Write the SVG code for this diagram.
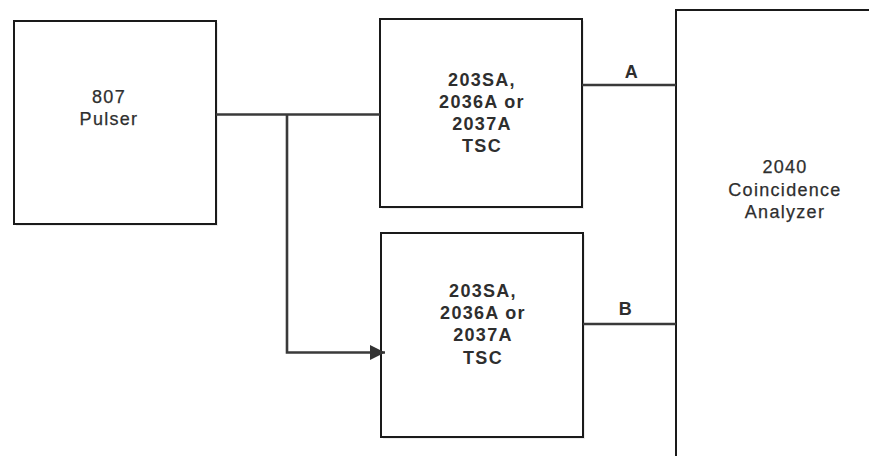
<svg xmlns="http://www.w3.org/2000/svg" width="869" height="456" viewBox="0 0 869 456">
<style>
.box{fill:#fff;stroke:#1a1a1a;stroke-width:2}
.sh{fill:#ececec}
.t{font-family:"Liberation Sans",Arial,sans-serif;font-size:18px;letter-spacing:1.3px;fill:#2e2e2e;stroke:#2e2e2e;stroke-width:0.25;text-anchor:middle}
.b{font-weight:bold;stroke-width:0}
.w{stroke:#3a3a3a;stroke-width:2.6;fill:none}
</style>
<defs>
<marker id="arr" markerWidth="16" markerHeight="16" refX="15" refY="7.5" orient="auto" markerUnits="userSpaceOnUse">
<path d="M0,0 L15,7.5 L0,15 Z" fill="#333"/>
</marker>
</defs>
<rect width="869" height="456" fill="#fff"/>
<g id="pulser">
<rect class="sh" x="16" y="23" width="202" height="203"/>
<rect class="box" x="14" y="21" width="202" height="203"/>
<text class="t" x="109" y="103">807</text>
<text class="t" x="109" y="125">Pulser</text>
</g>
<g id="tscA">
<rect class="sh" x="382" y="21" width="202" height="188"/>
<rect class="box" x="380" y="19" width="202" height="188"/>
<text class="t b" x="482" y="86">203SA,</text>
<text class="t b" x="482" y="108">2036A or</text>
<text class="t b" x="482" y="130">2037A</text>
<text class="t b" x="482" y="152">TSC</text>
</g>
<g id="tscB">
<rect class="sh" x="383" y="235" width="202" height="204"/>
<rect class="box" x="381" y="233" width="202" height="204"/>
<text class="t b" x="483" y="297">203SA,</text>
<text class="t b" x="483" y="319">2036A or</text>
<text class="t b" x="483" y="341">2037A</text>
<text class="t b" x="483" y="364">TSC</text>
</g>
<g id="analyzer">
<rect class="sh" x="678" y="12" width="200" height="460"/>
<rect class="box" x="676" y="10" width="200" height="460"/>
<text class="t" x="785" y="173">2040</text>
<text class="t" x="785" y="196">Coincidence</text>
<text class="t" x="785" y="218">Analyzer</text>
</g>
<g id="connectors">
<path class="w" d="M216,114.5 H380"/>
<path class="w" d="M287,114.5 V352.5 H385" marker-end="url(#arr)"/>
<path class="w" d="M582,85 H676"/>
<path class="w" d="M583,324 H676"/>
<text class="t b" x="632" y="78">A</text>
<text class="t b" x="626" y="315">B</text>
</g>
</svg>
